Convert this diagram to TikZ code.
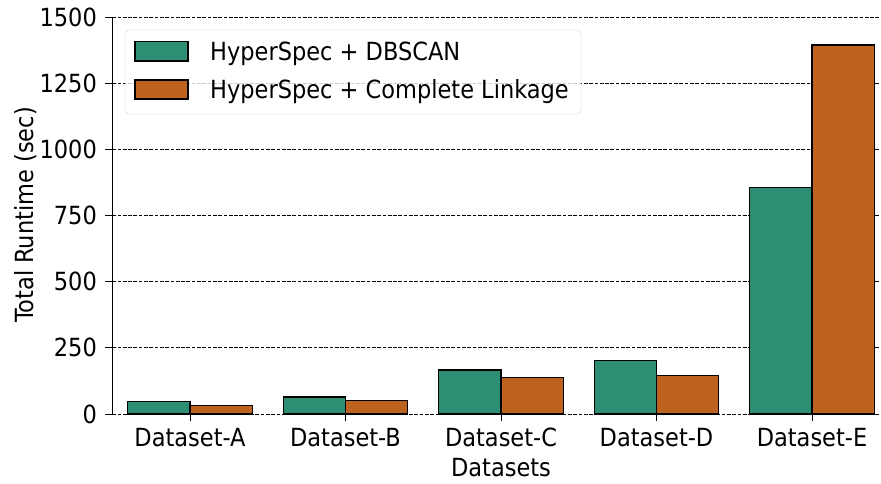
\documentclass[tikz,border=0pt]{standalone}
\usepackage{fontspec}
\setmainfont{DejaVu Sans Condensed}
\usepackage{xcolor}
\definecolor{dbgreen}{RGB}{44,143,115}
\definecolor{cloorange}{RGB}{189,98,31}
\begin{document}
\begin{tikzpicture}[
        x=1pt, y=1pt,
        bar/.style={draw=black, line width=1.2pt},
        gridline/.style={black, line width=0.8pt, dash pattern=on 3.7pt off 1.6pt},
        tickmark/.style={black, line width=0.8pt},
        lbl/.style={font=\fontsize{25}{30}\selectfont, inner sep=0pt}
    ]
        \useasboundingbox (0,0) rectangle (881,484);

        % Plot area in data units
        \begin{scope}[shift={(112.25,70)}, x=155.5pt, y=0.26467pt]
            % Grid and y ticks
            \foreach \v in {0,250,...,1500} {
                \draw[gridline] (0,\v) -- (4.95,\v);
                \draw[tickmark] (0,\v) -- ++(-7pt,0)
                    node[lbl, anchor=east, xshift=-8pt] (ytick\v) {\v};
            }

            % Bars
            \foreach \i/\g/\o in {0/46/33, 1/64/50, 2/166/139, 3/201/144, 4/856/1394} {
                \draw[bar, fill=dbgreen] (\i+0.1,0) rectangle (\i+0.5,\g);
                \draw[bar, fill=cloorange] (\i+0.5,0) rectangle (\i+0.9,\o);
            }

            % x ticks
            \foreach \i/\n in {0/A, 1/B, 2/C, 3/D, 4/E} {
                \draw[tickmark] (\i+0.5,0) -- ++(0,-7pt);
                \node[lbl, anchor=base, yshift=-33pt] (xtick\n) at (\i+0.5,0) {Dataset-\n};
            }

            % Left spine
            \draw[line width=1.2pt] (0,0) -- (0,1500);

            % Axis titles
            \node[lbl, anchor=base] (xtitle) at ([yshift=-63pt]2.5,0) {Datasets};
        \end{scope}
        \node[lbl, rotate=90, anchor=base] (ytitle) at (33,269) {Total Runtime (sec)};

        % Legend
        \draw[draw=black!20, fill=white, fill opacity=0.8, rounded corners=4pt] (125,370) rectangle (581,454);
        \draw[bar, fill=dbgreen] (135,423) rectangle (188,442.3);
        \draw[bar, fill=cloorange] (135,385) rectangle (188,404);
        \node[lbl, anchor=base west] (legdb) at (210,423.3) {HyperSpec + DBSCAN};
        \node[lbl, anchor=base west] (legcl) at (210,385) {HyperSpec + Complete Linkage};
    \end{tikzpicture}
\end{document}
